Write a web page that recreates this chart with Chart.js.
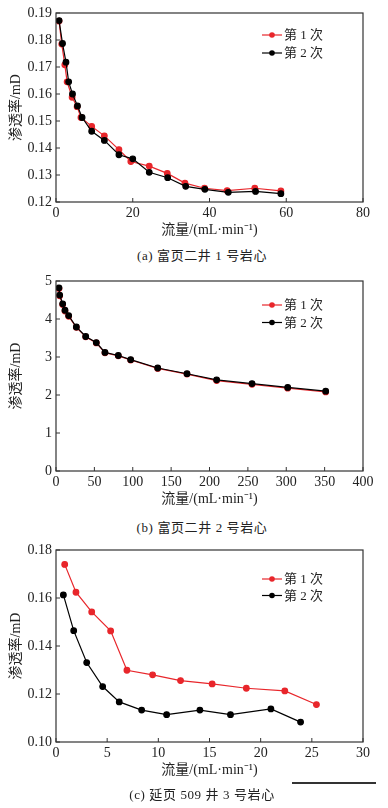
<!DOCTYPE html>
<html>
<head>
<meta charset="utf-8">
<script src="https://cdn.jsdelivr.net/npm/chart.js@4.4.1/dist/chart.umd.min.js"></script>
<style>
  body { margin: 0; background: #fff; width: 388px; height: 808px; position: relative; overflow: hidden; }
  canvas { position: absolute; left: 0; }
  .cap { position: absolute; left: 0; width: 404px; text-align: center; font-family: "Liberation Serif", "Noto Sans CJK SC", serif; font-size: 13px; color: #222; white-space: nowrap; letter-spacing: 0.6px; }
</style>
</head>
<body>
<canvas id="chartA" width="388" height="245" style="top:0px"></canvas>
<div class="cap" style="top:245px;">(a) 富页二井 1 号岩心</div>
<canvas id="chartB" width="388" height="246" style="top:268px"></canvas>
<div class="cap" style="top:517px;">(b) 富页二井 2 号岩心</div>
<canvas id="chartC" width="388" height="248" style="top:537px"></canvas>
<div class="cap" style="top:784px;">(c) 延页 509 井 3 号岩心</div>
<div style="position:absolute; left:292px; top:782px; width:84px; height:1.5px; background:#333;"></div>
<script>
// (a) 富页二井 1 号岩心
var aRun1X = [0.8, 1.5, 2.3, 2.9, 4.2, 5.5, 6.5, 9.3, 12.6, 16.4, 19.5, 24.3, 29.0, 33.6, 38.7, 44.6, 51.8, 58.6];
var aRun1Y = [0.1870, 0.1785, 0.1708, 0.1645, 0.1588, 0.1553, 0.1513, 0.1480, 0.1445, 0.1394, 0.1350, 0.1333, 0.1306, 0.1270, 0.1251, 0.1242, 0.1251, 0.1241];
var aRun2X = [0.8, 1.7, 2.6, 3.3, 4.3, 5.6, 6.8, 9.3, 12.6, 16.4, 20.0, 24.3, 29.1, 33.8, 38.8, 44.9, 52.0, 58.6];
var aRun2Y = [0.1872, 0.1787, 0.1718, 0.1645, 0.1600, 0.1556, 0.1513, 0.1462, 0.1428, 0.1375, 0.1360, 0.1310, 0.1290, 0.1258, 0.1247, 0.1236, 0.1239, 0.1231];

// (b) 富页二井 2 号岩心
var bRunX = [3.9, 4.8, 8.7, 11.7, 16.5, 26.5, 38.7, 52.5, 63.8, 81.2, 97.3, 132.5, 170.7, 209.3, 255.4, 301.9, 351.4];
var bRun1Y = [4.80, 4.61, 4.38, 4.21, 4.07, 3.78, 3.53, 3.37, 3.11, 3.03, 2.92, 2.70, 2.55, 2.38, 2.28, 2.18, 2.08];
var bRun2Y = [4.82, 4.63, 4.40, 4.23, 4.09, 3.79, 3.54, 3.38, 3.12, 3.04, 2.93, 2.71, 2.56, 2.40, 2.30, 2.20, 2.10];

// (c) 延页 509 井 3 号岩心
var cRun1X = [0.85, 1.95, 3.49, 5.34, 6.93, 9.44, 12.17, 15.26, 18.6, 22.36, 25.45];
var cRun1Y = [0.1740, 0.1624, 0.1542, 0.1463, 0.1299, 0.1280, 0.1256, 0.1242, 0.1224, 0.1213, 0.1156];
var cRun2X = [0.72, 1.73, 3.0, 4.56, 6.18, 8.37, 10.81, 14.06, 17.05, 21.0, 23.9];
var cRun2Y = [0.1613, 0.1464, 0.1331, 0.1231, 0.1167, 0.1133, 0.1114, 0.1133, 0.1114, 0.1138, 0.1083];

var seriesNames = ['第 1 次', '第 2 次'];
var xTitle = '流量/(mL·min⁻¹)';
var yTitle = '渗透率/mD';

var RED = '#e8262b';
var BLACK = '#000000';
var TEXT = '#222';
var SERIF = '"Liberation Serif", "Noto Sans CJK SC", serif';

function pts(xs, ys) {
    return xs.map(function (x, i) { return { x: x, y: ys[i] }; });
}

// box around the plot + inward tick marks
var framePlugin = {
    id: 'frame',
    afterDraw: function (chart) {
        var c = chart.ctx, a = chart.chartArea;
        c.save();
        c.strokeStyle = '#333';
        c.lineWidth = 1.2;
        c.strokeRect(a.left, a.top, a.right - a.left, a.bottom - a.top);
        c.lineWidth = 1;
        var xs = chart.scales.x, ys = chart.scales.y;
        xs.ticks.forEach(function (t) {
            var px = xs.getPixelForValue(t.value);
            c.beginPath(); c.moveTo(px, a.bottom); c.lineTo(px, a.bottom - 4); c.stroke();
        });
        ys.ticks.forEach(function (t) {
            var py = ys.getPixelForValue(t.value);
            c.beginPath(); c.moveTo(a.left, py); c.lineTo(a.left + 4, py); c.stroke();
        });
        c.restore();
    }
};

// legend: short line with a dot, then the label
var legendPlugin = {
    id: 'lineLegend',
    afterDraw: function (chart, args, opts) {
        var c = chart.ctx, a = chart.chartArea;
        c.save();
        c.font = '13px ' + SERIF;
        c.textBaseline = 'middle';
        chart.data.datasets.forEach(function (ds, i) {
            var y = a.top + opts.top + i * opts.gap;
            var x0 = opts.left;
            c.strokeStyle = ds.borderColor;
            c.lineWidth = 1.2;
            c.beginPath(); c.moveTo(x0, y); c.lineTo(x0 + 20, y); c.stroke();
            c.fillStyle = ds.borderColor;
            c.beginPath(); c.arc(x0 + 10, y, 2.8, 0, Math.PI * 2); c.fill();
            c.fillStyle = TEXT;
            c.fillText(ds.label, x0 + 22, y + 1);
        });
        c.restore();
    }
};

function makeChart(id, s1, s2, xr, yr, decimals, leg) {
    return new Chart(document.getElementById(id), {
        type: 'line',
        data: {
            datasets: [
                { label: seriesNames[0], data: s1, borderColor: RED, backgroundColor: RED, order: 2,
                  borderWidth: 1.2, pointRadius: 2.8, pointHoverRadius: 2.8, tension: 0 },
                { label: seriesNames[1], data: s2, borderColor: BLACK, backgroundColor: BLACK, order: 1,
                  borderWidth: 1.2, pointRadius: 2.8, pointHoverRadius: 2.8, tension: 0 }
            ]
        },
        options: {
            responsive: false,
            animation: false,
            layout: { padding: { top: 13, right: 25, bottom: 0, left: 0 } },
            plugins: {
                legend: { display: false },
                tooltip: { enabled: false },
                lineLegend: leg
            },
            scales: {
                x: {
                    type: 'linear', min: xr[0], max: xr[1],
                    ticks: { stepSize: xr[2], color: TEXT, font: { family: SERIF, size: 14 }, padding: 3, maxRotation: 0 },
                    grid: { display: false, drawTicks: false },
                    border: { display: false },
                    title: { display: true, text: xTitle, color: TEXT, font: { family: SERIF, size: 14 }, padding: { top: 0, bottom: 6 } },
                    afterFit: function (s) { s.height = 43; }
                },
                y: {
                    min: yr[0], max: yr[1],
                    ticks: { stepSize: yr[2], color: TEXT, font: { family: SERIF, size: 14 }, padding: 4,
                             callback: function (v) { return v.toFixed(decimals); } },
                    grid: { display: false, drawTicks: false },
                    border: { display: false },
                    title: { display: true, text: yTitle, color: TEXT, font: { family: SERIF, size: 14 }, padding: { top: 8, bottom: 0 } },
                    afterFit: function (s) { s.width = 56; }
                }
            }
        },
        plugins: [framePlugin, legendPlugin]
    });
}

makeChart('chartA', pts(aRun1X, aRun1Y), pts(aRun2X, aRun2Y), [0, 80, 20], [0.12, 0.19, 0.01], 2, { left: 262, top: 22, gap: 18 });
makeChart('chartB', pts(bRunX, bRun1Y), pts(bRunX, bRun2Y), [0, 400, 50], [0, 5, 1], 0, { left: 262, top: 24, gap: 17.5 });
makeChart('chartC', pts(cRun1X, cRun1Y), pts(cRun2X, cRun2Y), [0, 30, 5], [0.10, 0.18, 0.02], 2, { left: 262, top: 29, gap: 16.5 });
</script>
</body>
</html>
